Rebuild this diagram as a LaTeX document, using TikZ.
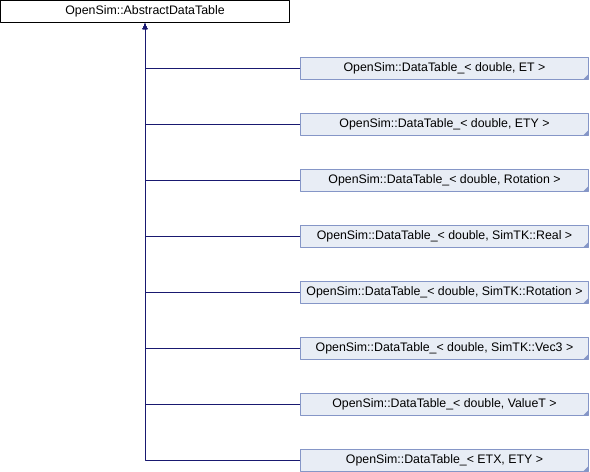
\documentclass[tikz,border=0pt]{standalone}
\usepackage{fontspec}
\setmainfont{Liberation Sans}
\definecolor{edgecol}{rgb}{0.1,0.1,0.44}
\definecolor{boxfill}{rgb}{0.91,0.93,0.96}
\definecolor{boxline}{rgb}{0.52,0.59,0.78}
\tikzset{
  basebox/.style={draw=black,fill=white,line width=1bp,minimum width=289bp,minimum height=22bp,inner sep=0pt,font=\fontsize{12.4}{14}\selectfont},
  derivedbox/.style={draw=boxline,fill=boxfill,line width=1bp,minimum width=288bp,minimum height=22bp,inner sep=0pt,font=\fontsize{12.4}{14}\selectfont,
    path picture={\fill[boxline] (path picture bounding box.south east) -- ++(-5bp,0) -- ++(5bp,5bp) -- cycle;}},
  inherit/.style={draw=edgecol,line width=1bp,-{Latex[length=6bp,width=5bp]}},
}
\usetikzlibrary{arrows.meta}
\begin{document}
\begin{tikzpicture}[>=latex,line join=bevel,]
  \useasboundingbox (0bp,0bp) rectangle (590bp,-472bp);
%%
  % Node: AbstractDataTable
  \node [basebox] (adt) at (145bp,-11.5bp) {OpenSim::AbstractDataTable};
  % Node: DataTable_< double, ET >
  \node [derivedbox] (dtET) at (444.5bp,-68bp) {OpenSim::DataTable\_< double, ET >};
  % Node: DataTable_< double, ETY >
  \node [derivedbox] (dtETY) at (444.5bp,-124bp) {OpenSim::DataTable\_< double, ETY >};
  % Node: DataTable_< double, Rotation >
  \node [derivedbox] (dtRot) at (444.5bp,-180bp) {OpenSim::DataTable\_< double, Rotation >};
  % Node: DataTable_< double, SimTK::Real >
  \node [derivedbox] (dtReal) at (444.5bp,-236bp) {OpenSim::DataTable\_< double, SimTK::Real >};
  % Node: DataTable_< double, SimTK::Rotation >
  \node [derivedbox] (dtSRot) at (444.5bp,-292bp) {OpenSim::DataTable\_< double, SimTK::Rotation >};
  % Node: DataTable_< double, SimTK::Vec3 >
  \node [derivedbox] (dtVec) at (444.5bp,-348bp) {OpenSim::DataTable\_< double, SimTK::Vec3 >};
  % Node: DataTable_< double, ValueT >
  \node [derivedbox] (dtVal) at (444.5bp,-404bp) {OpenSim::DataTable\_< double, ValueT >};
  % Node: DataTable_< ETX, ETY >
  \node [derivedbox] (dtXY) at (444.5bp,-460bp) {OpenSim::DataTable\_< ETX, ETY >};
%
  % Edge: each DataTable_ -> AbstractDataTable
  \foreach \n in {dtET,dtETY,dtRot,dtReal,dtSRot,dtVec,dtVal,dtXY}
    \draw [inherit] (\n.west) -| (adt.south);
%
\end{tikzpicture}
\end{document}
